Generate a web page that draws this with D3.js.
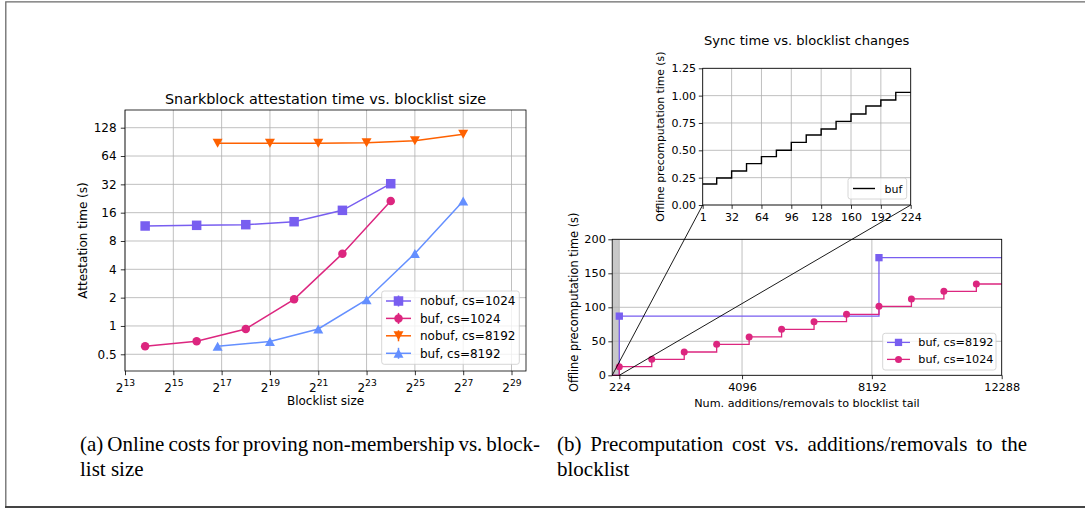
<!DOCTYPE html>
<html><head><meta charset="utf-8">
<script src="https://cdn.jsdelivr.net/npm/d3@7"></script>
<style>
body{margin:0;background:#fff}
svg{display:block}
text{fill:#000}
</style>
</head><body>
<script>
// ---------- Data: (a) attestation time vs blocklist size ----------
const sizes1024 = [14600, 64000, 262144, 1048576, 4194304, 16777216];
const sizes8192 = [116800, 524288, 2097152, 8388608, 33554432, 134217728];
const nobuf1024 = [11.55, 11.74, 11.93, 12.83, 16.94, 32.5];
const buf1024 = [0.608, 0.687, 0.929, 1.92, 5.87, 21.3];
const nobuf8192 = [87.3, 87.3, 87.3, 88.7, 93.2, 108.8];
const buf8192 = [0.608, 0.683, 0.929, 1.9, 5.9, 21.3];
const xTickExpsA = [13, 15, 17, 19, 21, 23, 25, 27, 29];
const yTicksA = [0.5, 1, 2, 4, 8, 16, 32, 64, 128];
const seriesNamesA = ["nobuf, cs=1024", "buf, cs=1024", "nobuf, cs=8192", "buf, cs=8192"];

// ---------- Data: (b) precomputation vs additions/removals ----------
const tailX8192 = [0, 224, 8416, 12288];
const tailBuf8192 = [0, 87, 173, 173];
const tailX1024 = [0, 224, 1248, 2272, 3296, 4320, 5344, 6368, 7392, 8416, 9440, 10464, 11488, 12288];
const tailBuf1024 = [0, 12.7, 23.5, 34.3, 45.6, 56.4, 67.6, 78.9, 89.7, 101.5, 112.3, 123.5, 134.3, 134.3];
const xTicksB = [224, 4096, 8192, 12288];
const yTicksB = [0, 50, 100, 150, 200];
const seriesNamesB = ["buf, cs=8192", "buf, cs=1024"];

// ---------- Data: inset sync time ----------
const syncX = [1, 16, 32, 48, 64, 80, 96, 112, 128, 144, 160, 176, 192, 208, 224];
const syncY = [0.192, 0.247, 0.311, 0.378, 0.442, 0.5, 0.573, 0.640, 0.695, 0.765, 0.832, 0.905, 0.960, 1.030, 1.030];
const xTicksInset = [1, 32, 64, 96, 128, 160, 192, 224];
const yTicksInset = [0, 0.25, 0.5, 0.75, 1.0, 1.25];

const C = {purple: "#785EF0", pink: "#DC267F", orange: "#FE6100", blue: "#648FFF", grid: "#b0b0b0"};
const SANS = "DejaVu Sans, sans-serif";

const W = 1085, H = 508;
const svg = d3.select("body").append("svg").attr("width", W).attr("height", H).style("font-family", SANS);
svg.append("rect").attr("width", W).attr("height", H).attr("fill", "#fff");

// outer frame
svg.append("path").attr("d", "M5.8,508V1.8H1085").attr("fill", "none").attr("stroke", "#6a6a6a").attr("stroke-width", 1.3);
svg.append("line").attr("x1", 5).attr("x2", W).attr("y1", 507).attr("y2", 507).attr("stroke", "#444").attr("stroke-width", 2);

function styleAxis(g, fs) {
  g.select(".domain").remove();
  g.selectAll(".tick line").attr("stroke", "#000").attr("stroke-width", 0.8);
  g.selectAll(".tick text").attr("font-size", fs).style("font-family", SANS).attr("fill", "#000");
}

function marker(g, type, x, y, color, s) {
  if (type === "square") {
    g.append("rect").attr("x", x - s / 2).attr("y", y - s / 2).attr("width", s).attr("height", s).attr("fill", color);
  } else if (type === "circle") {
    g.append("circle").attr("cx", x).attr("cy", y).attr("r", s / 2).attr("fill", color);
  } else if (type === "down") {
    const h = s * 0.9;
    g.append("path").attr("d", `M${x - s / 2},${y - h / 2}L${x + s / 2},${y - h / 2}L${x},${y + h / 2}Z`).attr("fill", color);
  } else if (type === "up") {
    const h = s * 0.9;
    g.append("path").attr("d", `M${x - s / 2},${y + h / 2}L${x + s / 2},${y + h / 2}L${x},${y - h / 2}Z`).attr("fill", color);
  }
}

// =================== Chart (a) ===================
(function () {
  const L = 125, R = 526, T = 110, B = 371;
  const x = d3.scaleLog().base(2).domain([Math.pow(2, 13), Math.pow(2, 29.6)]).range([L, R]);
  const y = d3.scaleLog().base(2).domain([Math.pow(2, -1.59), Math.pow(2, 7.625)]).range([B, T]);
  const xTicks = xTickExpsA.map(e => Math.pow(2, e));
  const g = svg.append("g");
  g.selectAll(".gx").data(xTicks).join("line").attr("x1", d => x(d)).attr("x2", d => x(d)).attr("y1", T).attr("y2", B)
    .attr("stroke", C.grid).attr("stroke-width", 0.8);
  g.selectAll(".gy").data(yTicksA).join("line").attr("y1", d => y(d)).attr("y2", d => y(d)).attr("x1", L).attr("x2", R)
    .attr("stroke", C.grid).attr("stroke-width", 0.8);

  const series = [
    {xs: sizes1024, ys: nobuf1024, color: C.purple, m: "square", s: 9.5},
    {xs: sizes1024, ys: buf1024, color: C.pink, m: "circle", s: 8.5},
    {xs: sizes8192, ys: nobuf8192, color: C.orange, m: "down", s: 10},
    {xs: sizes8192, ys: buf8192, color: C.blue, m: "up", s: 10}
  ];
  const line = d3.line().x(d => x(d[0])).y(d => y(d[1]));
  series.forEach(sr => {
    const pts = sr.xs.map((v, i) => [v, sr.ys[i]]);
    g.append("path").attr("d", line(pts)).attr("fill", "none").attr("stroke", sr.color).attr("stroke-width", 1.5);
    pts.forEach(p => marker(g, sr.m, x(p[0]), y(p[1]), sr.color, sr.s));
  });

  g.append("rect").attr("x", L).attr("y", T).attr("width", R - L).attr("height", B - T).attr("fill", "none").attr("stroke", "#000").attr("stroke-width", 0.8);

  const ax = g.append("g").attr("transform", `translate(0,${B})`).call(d3.axisBottom(x).tickValues(xTicks).tickSize(4.2).tickPadding(4.2));
  styleAxis(ax, 12);
  ax.selectAll(".tick text").each(function (d) {
    const t = d3.select(this);
    t.text(null).attr("dy", "1.05em");
    t.append("tspan").text("2");
    t.append("tspan").attr("dy", -5.5).attr("font-size", 9.2).text(Math.round(Math.log2(d)));
  });
  const ay = g.append("g").attr("transform", `translate(${L},0)`).call(d3.axisLeft(y).tickValues(yTicksA).tickFormat(d => String(d)).tickSize(4.2).tickPadding(4.2));
  styleAxis(ay, 12);

  g.append("text").attr("x", (L + R) / 2).attr("y", 103.5).attr("text-anchor", "middle").attr("font-size", 14.4).text("Snarkblock attestation time vs. blocklist size");
  g.append("text").attr("x", (L + R) / 2).attr("y", 404.5).attr("text-anchor", "middle").attr("font-size", 12).text("Blocklist size");
  g.append("text").attr("transform", `translate(87,${(T + B) / 2}) rotate(-90)`).attr("text-anchor", "middle").attr("font-size", 12).text("Attestation time (s)");

  const lg = g.append("g");
  lg.append("rect").attr("x", 381.7).attr("y", 291).attr("width", 137.6).attr("height", 73.3).attr("rx", 2.5)
    .attr("fill", "#fff").attr("fill-opacity", 0.8).attr("stroke", "#cccccc").attr("stroke-width", 0.8);
  const ly = [301, 318.4, 335.8, 353.3];
  series.forEach((sr, i) => {
    lg.append("line").attr("x1", 386).attr("x2", 411).attr("y1", ly[i]).attr("y2", ly[i]).attr("stroke", sr.color).attr("stroke-width", 1.5);
    lg.append("line").attr("x1", 398.5).attr("x2", 398.5).attr("y1", ly[i] - 5.5).attr("y2", ly[i] + 5.5).attr("stroke", sr.color).attr("stroke-width", 1.5);
    marker(lg, sr.m, 398.5, ly[i], sr.color, sr.s);
    lg.append("text").attr("x", 420).attr("y", ly[i] + 4.3).attr("font-size", 12).text(seriesNamesA[i]);
  });
})();

// =================== Chart (b) main ===================
let mainX, mainY, insetX, insetY;
(function () {
  const L = 612.2, R = 1001.7, T = 239.3, B = 375.3;
  const x = d3.scaleLinear().domain([0, 12288]).range([L, R]);
  const y = d3.scaleLinear().domain([0, 200]).range([B, T]);
  mainX = x; mainY = y;
  const g = svg.append("g");
  g.append("rect").attr("x", x(0)).attr("y", T).attr("width", x(224) - x(0)).attr("height", B - T).attr("fill", "#c8c8c8");
  g.selectAll(".gx").data(xTicksB).join("line").attr("x1", d => x(d)).attr("x2", d => x(d)).attr("y1", T).attr("y2", B)
    .attr("stroke", C.grid).attr("stroke-width", 0.8);
  g.selectAll(".gy").data(yTicksB).join("line").attr("y1", d => y(d)).attr("y2", d => y(d)).attr("x1", L).attr("x2", R)
    .attr("stroke", C.grid).attr("stroke-width", 0.8);

  const step = d3.line().curve(d3.curveStepAfter).x(d => x(d[0])).y(d => y(d[1]));
  const s1 = tailX8192.map((v, i) => [v, tailBuf8192[i]]);
  const s2 = tailX1024.map((v, i) => [v, tailBuf1024[i]]);
  g.append("path").attr("d", step(s1)).attr("fill", "none").attr("stroke", C.purple).attr("stroke-width", 1.3);
  g.append("path").attr("d", step(s2)).attr("fill", "none").attr("stroke", C.pink).attr("stroke-width", 1.3);
  s1.slice(1, -1).forEach(p => marker(g, "square", x(p[0]), y(p[1]), C.purple, 7.3));
  s2.slice(1, -1).forEach(p => marker(g, "circle", x(p[0]), y(p[1]), C.pink, 7));

  g.append("rect").attr("x", L).attr("y", T).attr("width", R - L).attr("height", B - T).attr("fill", "none").attr("stroke", "#000").attr("stroke-width", 0.8);

  const ax = g.append("g").attr("transform", `translate(0,${B})`).call(d3.axisBottom(x).tickValues(xTicksB).tickFormat(d => String(d)).tickSize(3.9).tickPadding(3.6));
  styleAxis(ax, 11.3);
  const ay = g.append("g").attr("transform", `translate(${L},0)`).call(d3.axisLeft(y).tickValues(yTicksB).tickFormat(d => String(d)).tickSize(3.9).tickPadding(2.4));
  styleAxis(ay, 11.3);

  g.append("text").attr("x", (L + R) / 2).attr("y", 406.5).attr("text-anchor", "middle").attr("font-size", 11.2).text("Num. additions/removals to blocklist tail");
  g.append("text").attr("transform", `translate(577.5,${(T + B) / 2 - 5}) rotate(-90)`).attr("text-anchor", "middle").attr("font-size", 11.4).text("Offline precomputation time (s)");

  const lg = g.append("g");
  lg.append("rect").attr("x", 882.7).attr("y", 333.3).attr("width", 113.3).attr("height", 36.7).attr("rx", 2.5)
    .attr("fill", "#fff").attr("fill-opacity", 0.8).attr("stroke", "#cccccc").attr("stroke-width", 0.8);
  const ly = [342.4, 359.4];
  const cols = [C.purple, C.pink], ms = ["square", "circle"], ss = [7.3, 7];
  seriesNamesB.forEach((nm, i) => {
    lg.append("line").attr("x1", 887).attr("x2", 910).attr("y1", ly[i]).attr("y2", ly[i]).attr("stroke", cols[i]).attr("stroke-width", 1.3);
    marker(lg, ms[i], 898.5, ly[i], cols[i], ss[i]);
    lg.append("text").attr("x", 918.3).attr("y", ly[i] + 4).attr("font-size", 11.2).text(nm);
  });
})();

// =================== Inset ===================
(function () {
  const L = 702.7, R = 910.7, T = 68.3, B = 205;
  const x = d3.scaleLinear().domain([1, 224]).range([L, R]);
  const y = d3.scaleLinear().domain([0, 1.25]).range([B, T]);
  insetX = x; insetY = y;
  const g = svg.append("g");
  g.append("rect").attr("x", L).attr("y", T).attr("width", R - L).attr("height", B - T).attr("fill", "#fff");
  g.selectAll(".gx").data(xTicksInset).join("line").attr("x1", d => x(d)).attr("x2", d => x(d)).attr("y1", T).attr("y2", B)
    .attr("stroke", C.grid).attr("stroke-width", 0.8);
  g.selectAll(".gy").data(yTicksInset).join("line").attr("y1", d => y(d)).attr("y2", d => y(d)).attr("x1", L).attr("x2", R)
    .attr("stroke", C.grid).attr("stroke-width", 0.8);
  const step = d3.line().curve(d3.curveStepAfter).x(d => x(d[0])).y(d => y(d[1]));
  g.append("path").attr("d", step(syncX.map((v, i) => [v, syncY[i]]))).attr("fill", "none").attr("stroke", "#000").attr("stroke-width", 1.4);
  g.append("rect").attr("x", L).attr("y", T).attr("width", R - L).attr("height", B - T).attr("fill", "none").attr("stroke", "#000").attr("stroke-width", 0.8);

  const ax = g.append("g").attr("transform", `translate(0,${B})`).call(d3.axisBottom(x).tickValues(xTicksInset).tickFormat(d => String(d)).tickSize(3.9).tickPadding(4.6));
  styleAxis(ax, 11);
  const ay = g.append("g").attr("transform", `translate(${L},0)`).call(d3.axisLeft(y).tickValues(yTicksInset).tickFormat(d3.format(".2f")).tickSize(3.9).tickPadding(2.8));
  styleAxis(ay, 11);

  g.append("text").attr("x", (L + R) / 2).attr("y", 45).attr("text-anchor", "middle").attr("font-size", 13.1).text("Sync time vs. blocklist changes");
  g.append("text").attr("transform", `translate(664,${(T + B) / 2}) rotate(-90)`).attr("text-anchor", "middle").attr("font-size", 10.8).text("Offline precomputation time (s)");

  const lg = g.append("g");
  lg.append("rect").attr("x", 848).attr("y", 178).attr("width", 58.7).attr("height", 21).attr("rx", 2.5)
    .attr("fill", "#fff").attr("fill-opacity", 0.8).attr("stroke", "#cccccc").attr("stroke-width", 0.8);
  lg.append("line").attr("x1", 853).attr("x2", 875).attr("y1", 188.5).attr("y2", 188.5).attr("stroke", "#000").attr("stroke-width", 1.4);
  lg.append("text").attr("x", 884.5).attr("y", 192.5).attr("font-size", 11).text("buf");
})();

// connector lines from the zoomed region in the main plot to the inset corners
svg.append("line").attr("x1", mainX(0)).attr("y1", mainY(0)).attr("x2", insetX(1)).attr("y2", insetY(0)).attr("stroke", "#000").attr("stroke-width", 0.9);
svg.append("line").attr("x1", mainX(224)).attr("y1", mainY(0)).attr("x2", insetX(224)).attr("y2", insetY(0)).attr("stroke", "#000").attr("stroke-width", 0.9);

// captions (first lines justified like LaTeX)
const SERIF = "Liberation Serif, Times New Roman, serif";
function capLine(xp, yp, s, target) {
  const t = svg.append("text").attr("x", xp).attr("y", yp).style("font-family", SERIF).attr("font-size", 21).text(s);
  if (target) {
    const w = t.node().getComputedTextLength();
    const spaces = (s.match(/ /g) || []).length;
    if (spaces > 0) t.style("word-spacing", ((target - w) / spaces) + "px");
  }
}
capLine(80, 450.5, "(a) Online costs for proving non-membership vs. block-", 460);
capLine(80, 475.5, "list size");
capLine(557, 450.5, "(b) Precomputation cost vs. additions/removals to the", 470);
capLine(557, 475.5, "blocklist");
</script>
</body></html>
